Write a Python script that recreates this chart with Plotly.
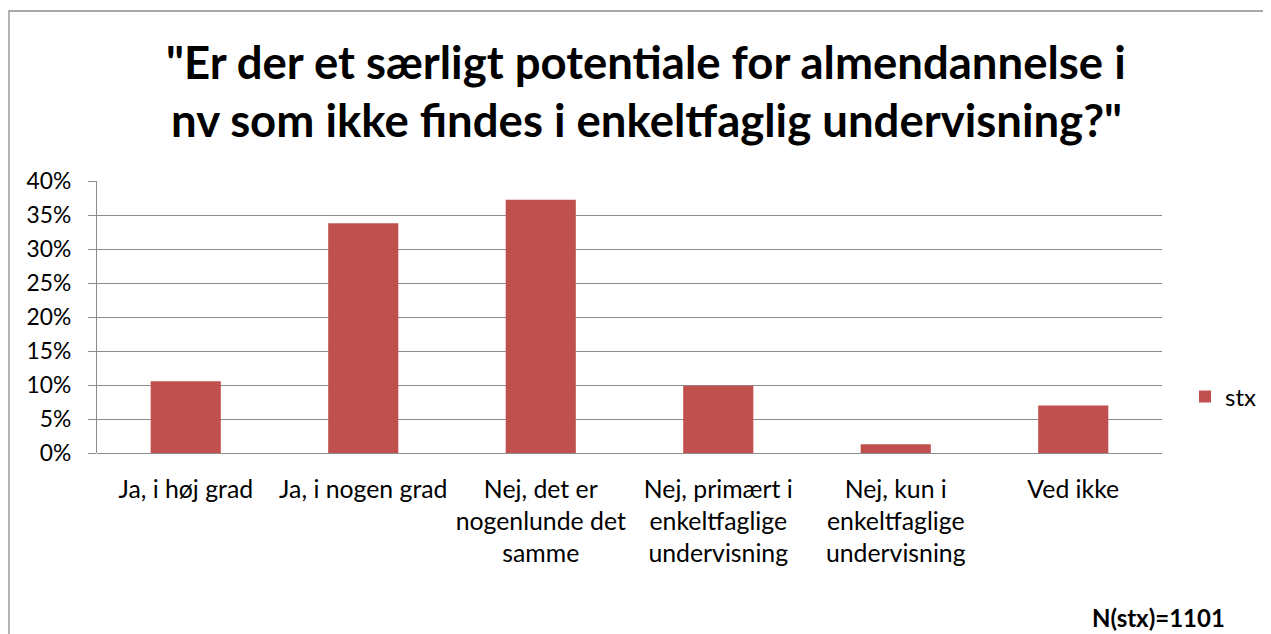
import plotly.graph_objects as go

categories = [
    "Ja, i høj grad",
    "Ja, i nogen grad",
    "Nej, det er<br>nogenlunde det<br>samme",
    "Nej, primært i<br>enkeltfaglige<br>undervisning",
    "Nej, kun i<br>enkeltfaglige<br>undervisning",
    "Ved ikke",
]
stx_values = [0.1056, 0.3377, 0.3726, 0.099, 0.0128, 0.0697]
series_name = "stx"
y_ticks = [0, 0.05, 0.10, 0.15, 0.20, 0.25, 0.30, 0.35, 0.40]
y_ticklabels = ["0%", "5%", "10%", "15%", "20%", "25%", "30%", "35%", "40%"]
title_lines = [
    "\"Er der et særligt potentiale for almendannelse i",
    "nv som ikke findes i enkeltfaglig undervisning?\"",
]
n_note = "N(stx)=1101"

FONT = "Lato"
OFF = 8  # page body margin
W, H = 1271 - OFF, 634 - OFF
# plot area in screen pixels
PX0, PX1, PY0, PY1 = 97, 1162, 181, 453
L, R = PX0 - OFF, W - (PX1 - OFF)
T, B = PY0 - OFF, H - (PY1 - OFF)
pw, ph = PX1 - PX0, PY1 - PY0

def px_x(x):
    return (x - PX0) / pw

def px_y(y):
    return (PY1 - y) / ph

fig = go.Figure()
fig.add_trace(go.Bar(
    x=categories, y=stx_values, name=series_name,
    marker=dict(color="#C0504D", line=dict(width=0)),
    showlegend=True,
))

fig.update_layout(
    width=W, height=H,
    margin=dict(l=L, r=R, t=T, b=B, autoexpand=False),
    paper_bgcolor="white", plot_bgcolor="white",
    font=dict(family=FONT, size=24, color="black"),
    bargap=0.605,
    showlegend=True,
    legend=dict(x=px_x(1185), y=px_y(397), xanchor="left", yanchor="middle",
                font=dict(family=FONT, size=24, color="black"),
                bgcolor="rgba(0,0,0,0)"),
    xaxis=dict(
        showgrid=False, showline=False, ticks="", zeroline=False,
        tickfont=dict(family=FONT, size=24.8, color="black"),
        ticklabelstandoff=19,
        fixedrange=True,
    ),
    yaxis=dict(
        range=[0, 0.40], tickvals=y_ticks, ticktext=y_ticklabels,
        showgrid=True, gridcolor="#8C8C8C", gridwidth=1.3,
        showline=True, linecolor="#8C8C8C", linewidth=1.3,
        ticks="outside", ticklen=8, tickcolor="#8C8C8C", tickwidth=1.3,
        zeroline=True, zerolinecolor="#8C8C8C", zerolinewidth=1.3,
        tickfont=dict(family=FONT, size=22.8, color="black"),
        ticklabelstandoff=12,
        fixedrange=True,
    ),
)

# chart border
fig.add_shape(type="rect", xref="paper", yref="paper",
              x0=px_x(9), x1=px_x(1290), y0=px_y(660), y1=px_y(11),
              line=dict(color="#8C8C8C", width=1.3), fillcolor="rgba(0,0,0,0)",
              layer="below")

for line, yc in zip(title_lines, [61, 120]):
    fig.add_annotation(text="<b>" + line + "</b>", xref="paper", yref="paper",
                       x=px_x(646), y=px_y(yc), xanchor="center", yanchor="middle",
                       showarrow=False, font=dict(family=FONT, size=45.5, color="black"))

fig.add_annotation(text="<b>" + n_note + "</b>", xref="paper", yref="paper",
                   x=px_x(1227), y=px_y(617), xanchor="right", yanchor="middle",
                   showarrow=False, font=dict(family=FONT, size=24, color="black"))

fig.write_html("out.html")
